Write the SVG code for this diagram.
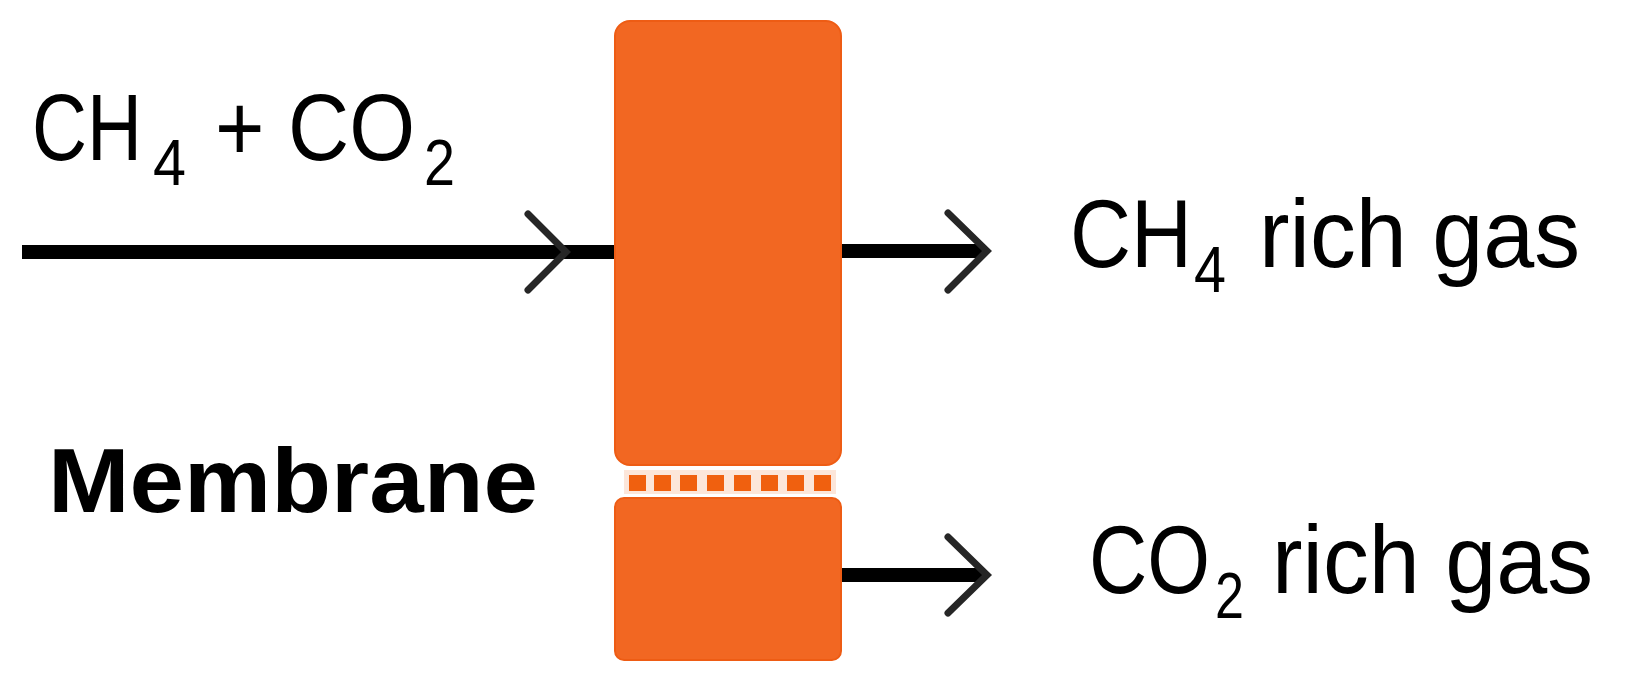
<svg xmlns="http://www.w3.org/2000/svg" width="1641" height="686" viewBox="0 0 1641 686">
<style>
.box{fill:#F26722;stroke:#EE5C14;stroke-width:2}
.pore{fill:#F0600F}
.line{stroke:#000;stroke-width:14;fill:none}
.chev{stroke:#262626;stroke-width:7;fill:none;stroke-linecap:round;stroke-linejoin:miter}
.lbl{font-family:"Liberation Sans",Arial,sans-serif;fill:#000}
</style>
<rect width="1641" height="686" fill="#fff"/>
<g id="connectors">
<line class="line" x1="22" y1="252" x2="616" y2="252"/>
<polyline class="chev" points="528,214 566,252 528,290"/>
<line class="line" x1="840" y1="251" x2="985" y2="251"/>
<polyline class="chev" points="948,213 987,251 948,290"/>
<line class="line" x1="840" y1="575" x2="985" y2="575"/>
<polyline class="chev" points="948,537 987,575 948,613"/>
</g>
<g id="upper-chamber">
<rect class="box" x="615" y="21" width="226" height="444" rx="15" ry="15"/>
</g>
<g id="membrane">
<rect x="624" y="470" width="212" height="24" fill="#FCE6DA"/>
<rect class="pore" x="629" y="475" width="17" height="16"/>
<rect class="pore" x="654" y="475" width="17" height="16"/>
<rect class="pore" x="680" y="475" width="17" height="16"/>
<rect class="pore" x="707" y="475" width="17" height="16"/>
<rect class="pore" x="734" y="475" width="17" height="16"/>
<rect class="pore" x="761" y="475" width="17" height="16"/>
<rect class="pore" x="787" y="475" width="17" height="16"/>
<rect class="pore" x="814" y="475" width="17" height="16"/>
</g>
<g id="lower-chamber">
<rect class="box" x="615" y="498" width="226" height="162" rx="9" ry="9"/>
</g>
<g id="label-feed">
<text class="lbl" y="160" font-size="95"><tspan x="32" textLength="110" lengthAdjust="spacingAndGlyphs">CH</tspan><tspan x="153" dy="25" font-size="64" textLength="33" lengthAdjust="spacingAndGlyphs">4</tspan><tspan x="215" dy="-25" textLength="200" lengthAdjust="spacingAndGlyphs">+ CO</tspan><tspan x="424" dy="25" font-size="64" textLength="31" lengthAdjust="spacingAndGlyphs">2</tspan></text>
</g>
<g id="label-ch4">
<text class="lbl" y="267" font-size="97"><tspan x="1070" textLength="122" lengthAdjust="spacingAndGlyphs">CH</tspan><tspan x="1194" dy="25" font-size="65" textLength="32" lengthAdjust="spacingAndGlyphs">4</tspan><tspan x="1259" dy="-25" textLength="321" lengthAdjust="spacingAndGlyphs">rich gas</tspan></text>
</g>
<g id="label-co2">
<text class="lbl" y="593" font-size="97"><tspan x="1089" textLength="121" lengthAdjust="spacingAndGlyphs">CO</tspan><tspan x="1215" dy="25" font-size="65" textLength="29" lengthAdjust="spacingAndGlyphs">2</tspan><tspan x="1272" dy="-25" textLength="321" lengthAdjust="spacingAndGlyphs">rich gas</tspan></text>
</g>
<g id="label-membrane">
<text class="lbl" x="48" y="512" font-size="91" font-weight="bold" textLength="490" lengthAdjust="spacingAndGlyphs">Membrane</text>
</g>
</svg>
